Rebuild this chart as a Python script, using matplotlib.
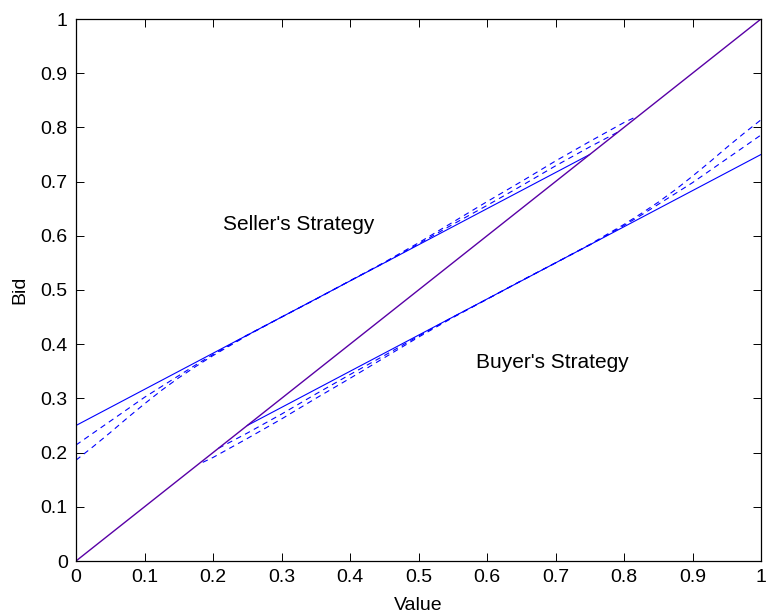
import matplotlib
matplotlib.use("Agg")
import matplotlib.pyplot as plt

# Equilibrium (solid) strategies
seller_solid_x = [0.0, 0.75]
seller_solid_y = [0.25, 0.75]
buyer_solid_x = [0.25, 1.0]
buyer_solid_y = [0.25, 0.75]
diag_x = [0.0, 1.0]
diag_y = [0.0, 1.0]

# Simulated (dashed) seller strategies
sellerA_x = [0, 0.025, 0.05, 0.075, 0.1, 0.125, 0.15, 0.175, 0.2, 0.25, 0.3, 0.35,
             0.4, 0.45, 0.5, 0.55, 0.6, 0.65, 0.7, 0.75, 0.792]
sellerA_y = [0.214, 0.236, 0.258, 0.280, 0.302, 0.322, 0.342, 0.362, 0.381, 0.417,
             0.450, 0.483, 0.517, 0.550, 0.585, 0.621, 0.656, 0.692, 0.729, 0.764, 0.792]
sellerB_x = [0, 0.025, 0.05, 0.075, 0.1, 0.125, 0.15, 0.175, 0.2, 0.25, 0.3, 0.35,
             0.4, 0.45, 0.5, 0.55, 0.6, 0.65, 0.7, 0.75, 0.8, 0.815]
sellerB_y = [0.186, 0.211, 0.237, 0.264, 0.290, 0.315, 0.338, 0.359, 0.379, 0.416,
             0.450, 0.483, 0.517, 0.551, 0.587, 0.625, 0.663, 0.700, 0.738, 0.774, 0.809, 0.818]

# Simulated (dashed) buyer strategies
buyerA_x = [0.208, 0.25, 0.3, 0.35, 0.4, 0.45, 0.5, 0.55, 0.6, 0.65, 0.7, 0.75, 0.8,
            0.825, 0.85, 0.875, 0.9, 0.925, 0.95, 0.975, 1.0]
buyerA_y = [0.208, 0.236, 0.271, 0.308, 0.344, 0.379, 0.415, 0.450, 0.483, 0.517, 0.550,
            0.583, 0.619, 0.638, 0.658, 0.678, 0.698, 0.720, 0.742, 0.764, 0.786]
buyerB_x = [0.185, 0.2, 0.25, 0.3, 0.35, 0.4, 0.45, 0.5, 0.55, 0.6, 0.65, 0.7, 0.75,
            0.8, 0.825, 0.85, 0.875, 0.9, 0.925, 0.95, 0.975, 1.0]
buyerB_y = [0.182, 0.191, 0.226, 0.262, 0.300, 0.337, 0.375, 0.413, 0.449, 0.483, 0.517,
            0.550, 0.584, 0.621, 0.641, 0.662, 0.685, 0.710, 0.736, 0.763, 0.789, 0.814]

ticks = [0, 0.1, 0.2, 0.3, 0.4, 0.5, 0.6, 0.7, 0.8, 0.9, 1]
tick_labels = ["0", "0.1", "0.2", "0.3", "0.4", "0.5", "0.6", "0.7", "0.8", "0.9", "1"]

plt.rcParams['font.family'] = ['Liberation Sans', 'DejaVu Sans']

fig = plt.figure(figsize=(7.67, 6.16), dpi=100)
ax = fig.add_axes([76 / 767, 55 / 616, 685 / 767, 542 / 616])

blue = (0.0, 0.0, 1.0)
lw = 0.8
ax.plot(sellerA_x, sellerA_y, '--', color=blue, lw=lw, dashes=(5, 4))
ax.plot(sellerB_x, sellerB_y, '--', color=blue, lw=lw, dashes=(5, 4))
ax.plot(buyerA_x, buyerA_y, '--', color=blue, lw=lw, dashes=(5, 4))
ax.plot(buyerB_x, buyerB_y, '--', color=blue, lw=lw, dashes=(5, 4))
ax.plot(seller_solid_x, seller_solid_y, '-', color=blue, lw=lw)
ax.plot(buyer_solid_x, buyer_solid_y, '-', color=blue, lw=lw)
ax.plot(diag_x, diag_y, '-', color=(0.35, 0.0, 0.65), lw=1.0)

ax.text(0.214, 0.62, "Seller's Strategy", fontsize=15, ha='left', va='center')
ax.text(0.584, 0.366, "Buyer's Strategy", fontsize=15, ha='left', va='center')

ax.set_xlim(0, 1)
ax.set_ylim(0, 1)
ax.set_xticks(ticks)
ax.set_xticklabels(tick_labels)
ax.set_yticks(ticks)
ax.set_yticklabels(tick_labels)
ax.tick_params(direction='in', length=6, width=0.7, labelsize=14, pad=6,
               top=True, right=True, colors='black')
for s in ax.spines.values():
    s.set_linewidth(0.9)
    s.set_color('black')
ax.set_xlabel("Value", fontsize=14, labelpad=8)
ax.set_ylabel("Bid", fontsize=14, labelpad=9)

fig.savefig("out.png", dpi=100)
